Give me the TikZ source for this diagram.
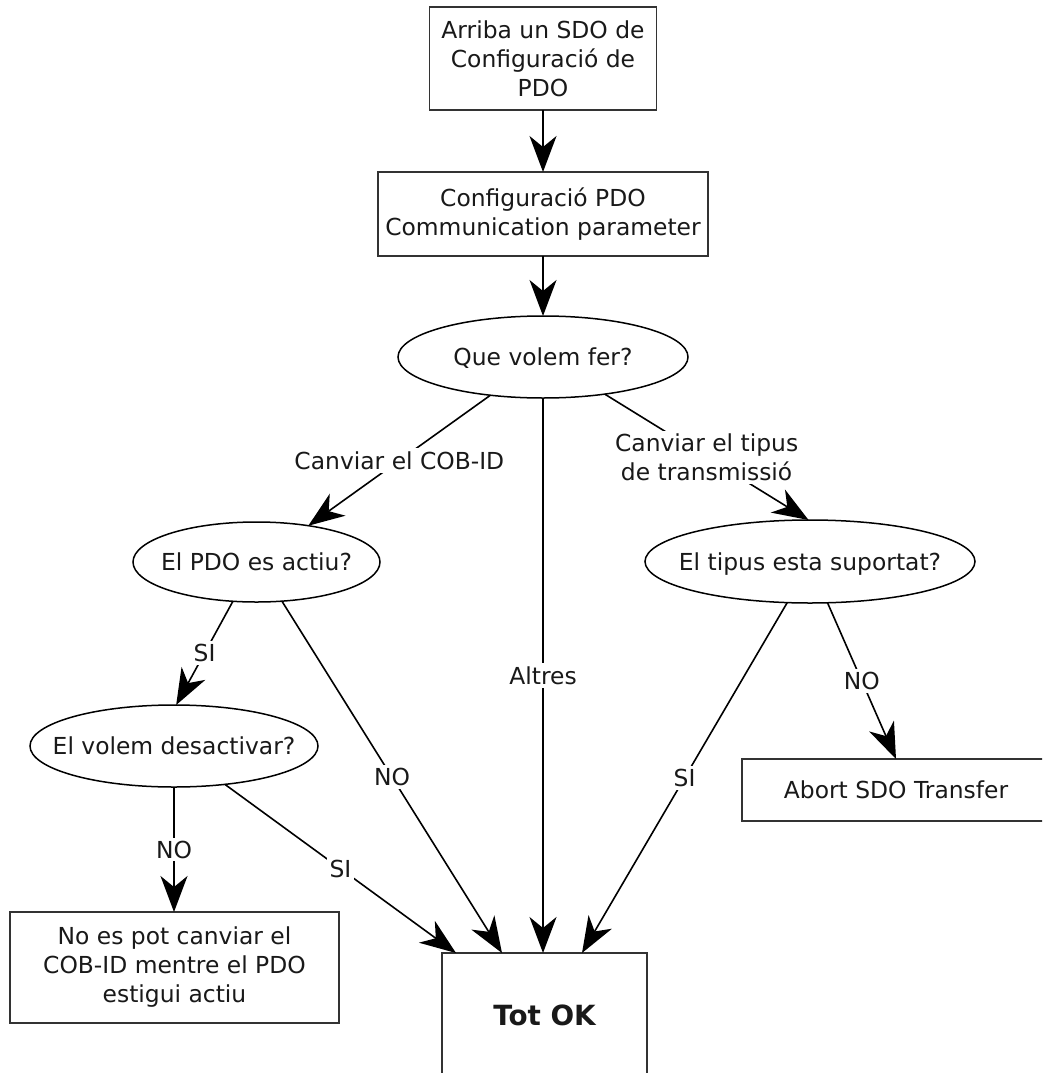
\documentclass[tikz,border=0pt]{standalone}
\usepackage{fontspec}
\setmainfont{DejaVu Sans}
\usetikzlibrary{arrows.meta,shapes.geometric}

\begin{document}
\begin{tikzpicture}[x=1pt,y=-1pt,
  every node/.style={font=\fontsize{23.4}{29}\selectfont, text=black!90},
  box/.style={draw=black!80, line width=1.8pt, rectangle, align=center,
    inner sep=0pt, outer sep=0pt},
  question/.style={draw=black, line width=1.5pt, ellipse, inner xsep=-30pt,
    inner ysep=0pt, outer sep=0pt, text height=17pt, text depth=0pt},
  link/.style={line width=1.6pt, draw=black,
    -{Stealth[length=36pt,width=27pt,inset=11pt]}},
  tag/.style={fill=white, inner sep=3pt, midway}
]
\useasboundingbox (0,0) rectangle (1042,1073);
\fill[white] (0,0) rectangle (1042,1073);
\clip (0,0) rectangle (1042,1073);

% steps and decisions
\node[box, minimum width=227pt, minimum height=103pt] (start) at (543,58.5)
  {Arriba un SDO de\\Configuració de\\PDO};
\node[box, minimum width=330pt, minimum height=84pt] (comm) at (543,214)
  {Configuració PDO\\Communication parameter};
\node[question, minimum width=290pt, minimum height=82pt] (what) at (543,357)
  {Que volem fer?};
\node[question, minimum width=247pt, minimum height=80pt] (active) at (256.5,562)
  {El PDO es actiu?};
\node[question, minimum width=330pt, minimum height=83pt] (type) at (810,561.5)
  {El tipus esta suportat?};
\node[question, minimum width=288pt, minimum height=82pt] (disable) at (174,746)
  {El volem desactivar?};
\node[box, minimum width=329pt, minimum height=111pt] (cannot) at (174.5,967.5)
  {No es pot canviar el\\COB-ID mentre el PDO\\estigui actiu};
\node[box, minimum width=308pt, minimum height=62pt] (abort) at (896,790)
  {Abort SDO Transfer};
\node[box, minimum width=205pt, minimum height=124pt,
  font=\fontsize{27.8}{33}\selectfont\bfseries] (ok) at (544.5,1015) {Tot OK};

% connectors
\draw[link] (start.south) -- (comm.north);
\draw[link] (comm.south) -- (what.north);
\draw[link] (what.216) -- node[tag]{Canviar el COB-ID} (active.35);
\draw[link] (what.329) -- node[tag, align=center]{Canviar el tipus\\de transmissió} (type.92);
\draw[link] (what.south) -- node[tag]{Altres} (what.south |- ok.north);
\draw[link] (active.239) -- node[tag]{SI} (disable.87);
\draw[link] (active.303) -- node[tag]{NO} ([xshift=-42.5pt]ok.north);
\draw[link] (disable.south) -- node[tag]{NO} (disable.south |- cannot.north);
\draw[link] (disable.323) -- node[tag]{SI} ([xshift=-88.5pt]ok.north);
\draw[link] (type.241) -- node[tag]{SI} ([xshift=37.5pt]ok.north);
\draw[link] (type.293) -- node[tag]{NO} (abort.north);
\end{tikzpicture}
\end{document}
